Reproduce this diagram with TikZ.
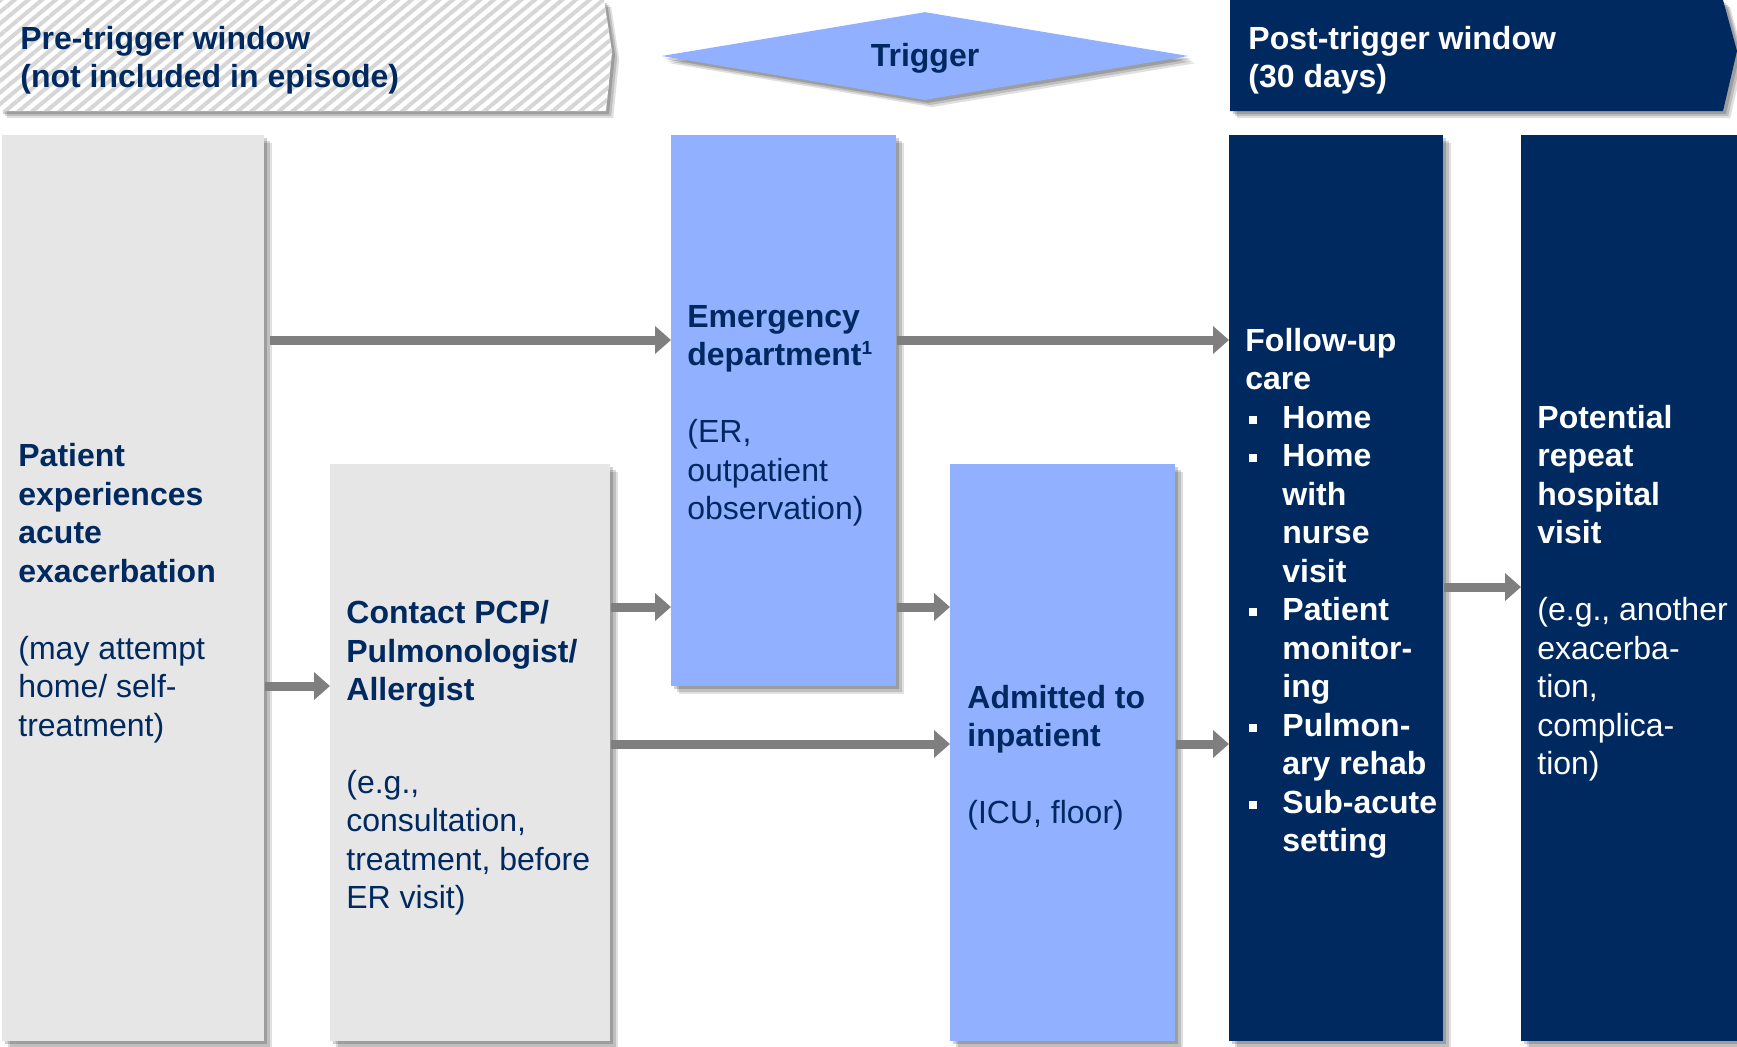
\documentclass[tikz,border=0pt]{standalone}
\usepackage{fontspec}
\setmainfont{Liberation Sans}
\usetikzlibrary{arrows.meta,shadows,patterns.meta,shapes.geometric,calc}
\definecolor{navy}{RGB}{0,41,96}
\definecolor{lblue}{RGB}{145,176,255}
\definecolor{lgrey}{RGB}{230,230,230}
\definecolor{agrey}{RGB}{127,127,127}
\definecolor{stripe}{RGB}{214,214,214}
\tikzset{
  shad/.style={
    drop shadow={shadow xshift=3.6pt,shadow yshift=-3.6pt,opacity=0.12,fill=black},
    drop shadow={shadow xshift=2.6pt,shadow yshift=-2.6pt,opacity=0.15,fill=black},
    drop shadow={shadow xshift=1.5pt,shadow yshift=-1.5pt,opacity=0.18,fill=black}},
  box/.style={shad, anchor=north west, inner sep=0pt, draw=none},
  greybox/.style={box, fill=lgrey},
  bluebox/.style={box, fill=lblue},
  navybox/.style={box, fill=navy},
  txt/.style={anchor=west, align=left, inner sep=0pt, font=\fontsize{16pt}{19.25pt}\selectfont, text=navy},
  wtxt/.style={txt, text=white},
  wbtxt/.style={txt, text=white, font=\fontsize{16pt}{19.25pt}\selectfont\bfseries},
  arr/.style={draw=agrey, line width=4.5pt, -{Triangle[length=8pt,width=13.5pt]}},
}
\newcommand{\bul}{\makebox[18.5pt][l]{\hspace{2pt}\raisebox{2.3pt}{\rule{4pt}{4pt}}}}
\newcommand{\ind}{\hspace*{18.5pt}}
\newcommand{\supone}{\raisebox{5.8pt}{\fontsize{9.5pt}{9.5pt}\selectfont\bfseries 1}}
\begin{document}
\begin{tikzpicture}[x=0.5pt,y=-0.5pt]
\useasboundingbox (0,0) rectangle (1737,1046);

% pre-trigger banner
\fill[white, shad] (0,0) -- (604,0) -- (612,52) -- (606,111) -- (0,111) -- cycle;
\fill[pattern={Lines[angle=40,distance=4.4pt,line width=2pt]}, pattern color=stripe]
  (0,0) -- (604,0) -- (612,52) -- (606,111) -- (0,111) -- cycle;
\node[txt] (pre) at (20,60) {\textbf{Pre-trigger window}\\\textbf{(not included in episode)}};

% trigger
\node[diamond, aspect=6, minimum width=263.5pt, minimum height=44pt, inner sep=0pt,
  fill=lblue, shad] (trig) at (925,56) {};
\node[text=navy, inner sep=0pt, font=\fontsize{16pt}{19.25pt}\selectfont\bfseries] (trigt) at ([yshift=-1.2pt]trig.center) {Trigger};

% post-trigger banner
\fill[navy, shad] (1230,0) -- (1723,0) -- (1737,51) -- (1723,111) -- (1230,111) -- cycle;
\node[wtxt] (post) at (1248,60) {\textbf{Post-trigger window}\\\textbf{(30 days)}};

% boxes
\node[greybox, minimum width=131pt, minimum height=453pt] (b1) at (2,135) {};
\node[greybox, minimum width=140pt, minimum height=288.5pt] (b2) at (330,464) {};
\node[bluebox, minimum width=112.5pt, minimum height=275.5pt] (b3) at (671,135) {};
\node[bluebox, minimum width=112.5pt, minimum height=288.5pt] (b4) at (950,464) {};
\node[navybox, minimum width=107pt, minimum height=453pt] (b5) at (1229,135) {};
\node[navybox, minimum width=108pt, minimum height=453pt] (b6) at (1521,135) {};

% texts
\node[txt] (t1) at ([xshift=8pt,yshift=-2.5pt]b1.west) {\textbf{Patient}\\\textbf{experiences}\\\textbf{acute}\\\textbf{exacerbation}\\[19.25pt](may attempt\\home/ self-\\treatment)};
\node[txt] (t2) at ([xshift=8pt,yshift=-2.5pt]b2.west) {\textbf{Contact PCP/}\\\textbf{Pulmonologist/}\\\textbf{Allergist}\\[27pt](e.g.,\\consultation,\\treatment, before\\ER visit)};
\node[txt] (t3) at ([xshift=8pt,yshift=-2.5pt]b3.west) {\textbf{Emergency}\\\textbf{department}\supone\\[19.25pt](ER,\\outpatient\\observation)};
\node[txt] (t4) at ([xshift=8.5pt,yshift=-2.5pt]b4.west) {\textbf{Admitted to}\\\textbf{inpatient}\\[19.25pt](ICU, floor)};
\node[wbtxt] (t5) at ([xshift=8pt,yshift=-2.5pt]b5.west) {Follow-up\\care\\\bul Home\\\bul Home\\\ind with\\\ind nurse\\\ind visit\\\bul Patient\\\ind monitor-\\\ind ing\\\bul Pulmon-\\\ind ary rehab\\\bul Sub-acute\\\ind setting};
\node[wtxt] (t6) at ([xshift=8pt,yshift=-2.5pt]b6.west) {\textbf{Potential}\\\textbf{repeat}\\\textbf{hospital}\\\textbf{visit}\\[19.25pt](e.g., another\\exacerba-\\tion,\\complica-\\tion)};

% arrow levels
\coordinate (ya) at (0,340);
\coordinate (yb) at (0,607);
\coordinate (yc) at (0,686);
\coordinate (yd) at (0,744);
\coordinate (ye) at (0,587);

\draw[arr] ([xshift=2.5pt]b1.east |- ya) -- (b3.west |- ya);
\draw[arr] (b1.east |- yc) -- (b2.west |- yc);
\draw[arr] (b2.east |- yb) -- (b3.west |- yb);
\draw[arr] (b2.east |- yd) -- (b4.west |- yd);
\draw[arr] (b3.east |- yb) -- (b4.west |- yb);
\draw[arr] (b3.east |- ya) -- (b5.west |- ya);
\draw[arr] (b4.east |- yd) -- (b5.west |- yd);
\draw[arr] (b5.east |- ye) -- (b6.west |- ye);
\end{tikzpicture}
\end{document}
